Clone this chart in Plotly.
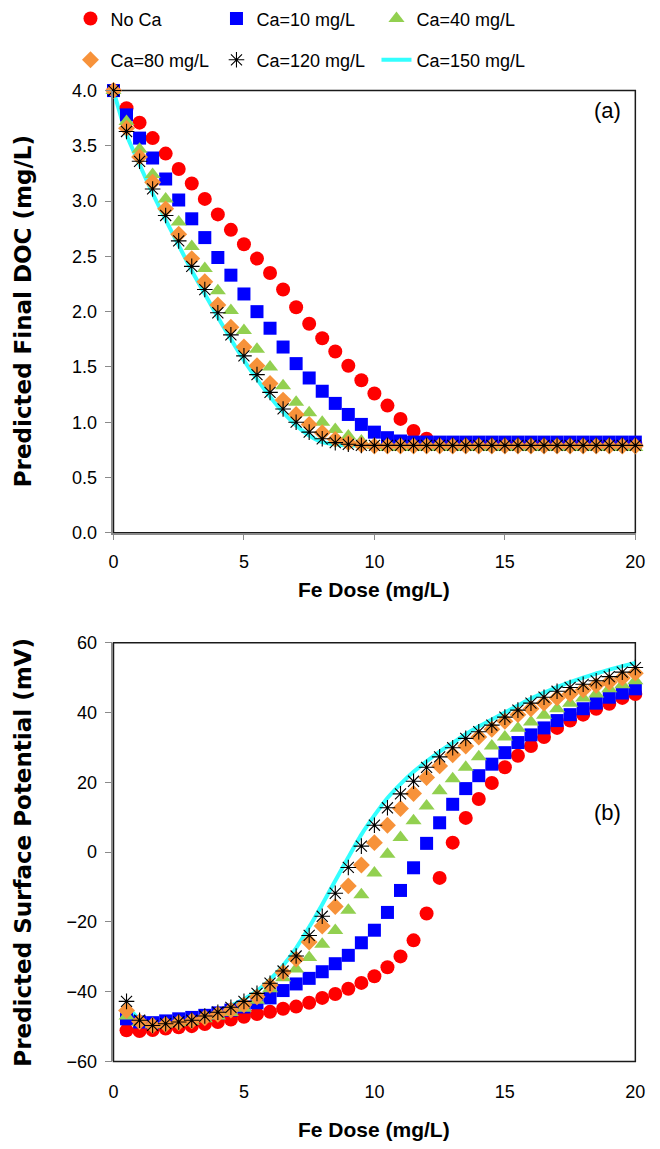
import plotly.graph_objects as go

# ---------------- data ----------------
dose_a = [0, 0.5, 1, 1.5, 2, 2.5, 3, 3.5, 4, 4.5, 5, 5.5, 6, 6.5, 7, 7.5, 8, 8.5, 9, 9.5,
          10, 10.5, 11, 11.5, 12, 12.5, 13, 13.5, 14, 14.5, 15, 15.5, 16, 16.5, 17, 17.5,
          18, 18.5, 19, 19.5, 20]
dose_b = [0.5, 1, 1.5, 2, 2.5, 3, 3.5, 4, 4.5, 5, 5.5, 6, 6.5, 7, 7.5, 8, 8.5, 9, 9.5,
          10, 10.5, 11, 11.5, 12, 12.5, 13, 13.5, 14, 14.5, 15, 15.5, 16, 16.5, 17, 17.5,
          18, 18.5, 19, 19.5, 20]

series_names = ["No Ca", "Ca=10 mg/L", "Ca=40 mg/L", "Ca=80 mg/L", "Ca=120 mg/L", "Ca=150 mg/L"]

# (a) Predicted final DOC (mg/L)
doc_noca = [4.00, 3.84, 3.71, 3.57, 3.43, 3.29, 3.16, 3.02, 2.88, 2.74, 2.61, 2.48, 2.35, 2.20,
            2.04, 1.89, 1.76, 1.64, 1.51, 1.38, 1.26, 1.15, 1.03, 0.92, 0.85, 0.81, 0.80, 0.80,
            0.80, 0.80, 0.80, 0.80, 0.80, 0.80, 0.80, 0.80, 0.80, 0.80, 0.80, 0.80, 0.80]
doc_ca10 = [4.00, 3.78, 3.57, 3.39, 3.20, 3.01, 2.84, 2.67, 2.49, 2.33, 2.16, 2.00, 1.85, 1.68,
            1.53, 1.40, 1.28, 1.17, 1.07, 0.98, 0.91, 0.86, 0.83, 0.82, 0.82, 0.82, 0.82, 0.82,
            0.82, 0.82, 0.82, 0.82, 0.82, 0.82, 0.82, 0.82, 0.82, 0.82, 0.82, 0.82, 0.82]
doc_ca40 = [4.00, 3.72, 3.47, 3.24, 3.02, 2.81, 2.59, 2.39, 2.19, 2.01, 1.83, 1.66, 1.50, 1.33,
            1.18, 1.085, 1.00, 0.935, 0.875, 0.83, 0.79, 0.77, 0.77, 0.77, 0.77, 0.77, 0.77, 0.77,
            0.77, 0.77, 0.77, 0.77, 0.77, 0.77, 0.77, 0.77, 0.77, 0.77, 0.77, 0.77, 0.77]
doc_ca80 = [4.00, 3.66, 3.40, 3.17, 2.93, 2.70, 2.48, 2.27, 2.06, 1.86, 1.68, 1.51, 1.35, 1.20,
            1.07, 0.98, 0.905, 0.845, 0.815, 0.795, 0.785, 0.785, 0.785, 0.785, 0.785, 0.785,
            0.785, 0.785, 0.785, 0.785, 0.785, 0.785, 0.785, 0.785, 0.785, 0.785, 0.785, 0.785,
            0.785, 0.785, 0.785]
doc_ca120 = [4.00, 3.63, 3.36, 3.11, 2.87, 2.64, 2.41, 2.20, 1.99, 1.79, 1.60, 1.43, 1.27, 1.12,
             1.00, 0.91, 0.85, 0.815, 0.80, 0.79, 0.79, 0.79, 0.79, 0.79, 0.79, 0.79, 0.79, 0.79,
             0.79, 0.79, 0.79, 0.79, 0.79, 0.79, 0.79, 0.79, 0.79, 0.79, 0.79, 0.79, 0.79]
doc_ca150 = [4.00, 3.60, 3.33, 3.07, 2.83, 2.60, 2.37, 2.16, 1.95, 1.75, 1.56, 1.39, 1.23, 1.09,
             0.97, 0.88, 0.82, 0.80, 0.79, 0.79, 0.79, 0.79, 0.79, 0.79, 0.79, 0.79, 0.79, 0.79,
             0.79, 0.79, 0.79, 0.79, 0.79, 0.79, 0.79, 0.79, 0.79, 0.79, 0.79, 0.79, 0.79]

# (b) Predicted surface potential (mV)
sp_noca = [-51.1, -51.3, -51.0, -50.6, -50.2, -49.9, -49.3, -48.7, -48.0, -47.2,
           -46.4, -45.8, -44.9, -44.3, -43.2, -41.8, -40.7, -39.2, -37.5, -35.6,
           -33.0, -29.9, -25.3, -17.6, -7.4, 2.7, 9.8, 15.2, 19.8, 24.3,
           27.6, 30.4, 33.0, 35.6, 37.7, 39.4, 41.1, 42.5, 44.2, 45.3]
sp_ca10 = [-47.8, -48.7, -48.9, -48.4, -47.8, -47.4, -46.8, -46.1, -45.3, -44.4,
           -43.2, -41.8, -39.7, -37.8, -36.2, -34.3, -32.0, -29.6, -26.0, -22.4,
           -17.3, -11.0, -4.5, 2.5, 8.4, 13.7, 18.2, 21.9, 25.2, 28.5,
           31.4, 33.6, 35.6, 37.7, 39.4, 41.1, 42.7, 44.4, 45.6, 46.8]
sp_ca40 = [-47.0, -48.8, -49.5, -49.3, -48.9, -48.5, -47.8, -47.0, -46.0, -44.8,
           -42.5, -39.2, -36.0, -33.5, -30.2, -26.4, -22.5, -16.7, -12.2, -6.0,
           -0.6, 4.2, 9.0, 13.2, 17.6, 21.0, 24.3, 27.3, 30.4, 33.0,
           35.5, 37.3, 39.2, 41.1, 42.7, 44.2, 45.3, 46.8, 48.0, 49.1]
sp_ca80 = [-45.4, -48.6, -49.7, -49.4, -48.9, -48.4, -47.5, -46.5, -45.3, -43.8,
           -41.5, -38.2, -34.5, -30.7, -25.8, -21.2, -15.6, -9.7, -3.7, 2.7,
           7.7, 12.5, 16.8, 21.4, 24.7, 27.9, 30.4, 33.0, 35.2, 37.5,
           39.4, 41.1, 42.7, 44.2, 45.3, 46.5, 47.8, 48.7, 49.9, 51.3]
sp_ca120 = [-42.8, -48.2, -49.7, -49.2, -48.7, -48.2, -47.0, -45.9, -44.5, -42.8,
            -40.5, -37.6, -34.1, -29.8, -23.9, -18.4, -11.8, -4.4, 1.7, 7.7,
            12.7, 16.7, 20.3, 24.3, 27.3, 29.9, 32.6, 34.5, 36.4, 38.7,
            40.7, 42.7, 44.4, 46.1, 47.2, 48.1, 49.1, 50.3, 51.6, 52.9]
sp_ca150 = [-44.0, -48.0, -49.5, -49.2, -48.7, -48.0, -46.8, -45.6, -44.0, -42.2,
            -39.8, -36.5, -32.5, -27.5, -21.5, -15.0, -8.2, -1.5, 5.0, 10.5,
            15.5, 19.5, 23.0, 26.0, 28.8, 31.3, 33.8, 36.0, 38.0, 40.0,
            42.0, 44.0, 45.7, 47.3, 48.7, 50.0, 51.2, 52.3, 53.3, 54.2]

x_ticks = [0, 5, 10, 15, 20]
doc_ticks = [0.0, 0.5, 1.0, 1.5, 2.0, 2.5, 3.0, 3.5, 4.0]
sp_ticks = [-60, -40, -20, 0, 20, 40, 60]

# ---------------- styling ----------------
FONT = "Liberation Sans, Arial, sans-serif"
AX_GRAY = "#8a8a8a"
W, H = 660, 1149
colors = ["#FF0000", "#0000FF", "#92D050", "#F7923A", "#000000", "#33FFFF"]
symbols = ["circle", "square", "triangle-up", "diamond", "asterisk-open", None]
sizes = [14, 13, 14, 13, 13, None]
legend_ids = ["legend", "legend", "legend", "legend2", "legend2", "legend2"]
legend_widths = [101, 115, 110, 101, 115, 110]

doc_series = [doc_noca, doc_ca10, doc_ca40, doc_ca80, doc_ca120, doc_ca150]
sp_series = [sp_noca, sp_ca10, sp_ca40, sp_ca80, sp_ca120, sp_ca150]

fig = go.Figure()

# cyan line underneath, then the marker series in order
order = [5, 0, 1, 2, 3, 4]
for i in order:
    for panel, (xs, ys) in enumerate([(dose_a, doc_series[i]), (dose_b, sp_series[i])]):
        xa, ya = ("x", "y") if panel == 0 else ("x2", "y2")
        common = dict(x=xs, y=ys, xaxis=xa, yaxis=ya, name=series_names[i],
                      showlegend=(panel == 0), legend=legend_ids[i],
                      legendrank=i + 1, legendwidth=legend_widths[i],
                      cliponaxis=False, hoverinfo="skip")
        if symbols[i] is None:
            fig.add_trace(go.Scatter(mode="lines",
                                     line=dict(color=colors[i], width=4,
                                               shape="spline", smoothing=0.5),
                                     **common))
        elif symbols[i] == "asterisk-open":
            fig.add_trace(go.Scatter(mode="markers",
                                     marker=dict(symbol=symbols[i], size=sizes[i],
                                                 color=colors[i],
                                                 line=dict(color="#000000", width=1.1)),
                                     **common))
        else:
            fig.add_trace(go.Scatter(mode="markers",
                                     marker=dict(symbol=symbols[i], size=sizes[i],
                                                 color=colors[i], line=dict(width=0)),
                                     **common))

# pixel geometry -> paper domains
left_px, right_px = 111, 645
xdom = [left_px / W, right_px / W]
ydom_a = [1 - 532 / H, 1 - 82 / H]
ydom_b = [1 - 1070 / H, 1 - 644 / H]

tickfont = dict(family=FONT, size=18, color="#000000")

fig.update_layout(
    width=W, height=H,
    margin=dict(l=0, r=0, t=0, b=0),
    paper_bgcolor="white", plot_bgcolor="white",
    font=dict(family=FONT, color="#000000"),
    xaxis=dict(domain=xdom, anchor="y", range=[0, 20], tickvals=x_ticks,
               showgrid=False, zeroline=False, showline=True, linecolor=AX_GRAY,
               linewidth=1.5, ticks="outside", ticklen=6, tickcolor=AX_GRAY,
               tickfont=tickfont, ticklabelstandoff=6, ticklabeloverflow="allow"),
    yaxis=dict(domain=ydom_a, anchor="x", range=[0, 4], tickvals=doc_ticks,
               tickformat=".1f", showgrid=False, zeroline=False, showline=True,
               linecolor=AX_GRAY, linewidth=1.5, ticks="outside", ticklen=7,
               tickcolor=AX_GRAY, tickfont=tickfont, ticklabelstandoff=4),
    xaxis2=dict(domain=xdom, anchor="y2", range=[0, 20], tickvals=x_ticks,
                showgrid=False, zeroline=False, showline=False, ticks="",
                tickfont=tickfont, ticklabelstandoff=18, ticklabeloverflow="allow"),
    xaxis3=dict(overlaying="x2", anchor="free",
                position=ydom_b[0] + (ydom_b[1] - ydom_b[0]) * 0.5,
                range=[0, 20], tickvals=x_ticks, showticklabels=False,
                showgrid=False, zeroline=False, showline=True, linecolor=AX_GRAY,
                linewidth=1.5, ticks="outside", ticklen=6, tickcolor=AX_GRAY),
    yaxis2=dict(domain=ydom_b, anchor="x2", range=[-60, 60], tickvals=sp_ticks,
                showgrid=False, zeroline=False, showline=True, linecolor=AX_GRAY,
                linewidth=1.5, ticks="outside", ticklen=7, tickcolor=AX_GRAY,
                tickfont=tickfont, ticklabelstandoff=4),
    legend=dict(orientation="h", x=67 / W, xanchor="left", y=1 - 9 / H, yanchor="middle",
                font=dict(family=FONT, size=18, color="#000000"), itemwidth=30,
                bgcolor="rgba(0,0,0,0)", traceorder="normal"),
    legend2=dict(orientation="h", x=67 / W, xanchor="left", y=1 - 51 / H, yanchor="middle",
                 font=dict(family=FONT, size=18, color="#000000"), itemwidth=30,
                 bgcolor="rgba(0,0,0,0)", traceorder="normal"),
)

# plot-area frames (top/right/bottom borders)
for xr, yr in [("x domain", "y domain"), ("x2 domain", "y2 domain")]:
    fig.add_shape(type="rect", xref=xr, yref=yr, x0=0, x1=1, y0=0, y1=1,
                  line=dict(color="#1a1a1a", width=1.5), layer="below")

title_font = dict(family=FONT, size=21, color="#000000", weight="bold")
ytitle_font = dict(family="DejaVu Sans, " + FONT, size=23, color="#000000", weight="bold")
xmid = (xdom[0] + xdom[1]) / 2
fig.add_annotation(text="Fe Dose (mg/L)", xref="paper", yref="paper", x=xmid, y=1 - 590 / H,
                   showarrow=False, font=title_font, xanchor="center", yanchor="middle")
fig.add_annotation(text="Fe Dose (mg/L)", xref="paper", yref="paper", x=xmid, y=1 - 1139 / H,
                   showarrow=False, font=title_font, xanchor="center", yanchor="middle")
fig.add_annotation(text="Predicted Final DOC (mg/L)", xref="paper", yref="paper",
                   x=18 / W, y=(ydom_a[0] + ydom_a[1]) / 2, textangle=-90, showarrow=False,
                   font=ytitle_font, xanchor="center", yanchor="middle")
fig.add_annotation(text="Predicted Surface Potential (mV)", xref="paper", yref="paper",
                   x=18 / W, y=(ydom_b[0] + ydom_b[1]) / 2, textangle=-90, showarrow=False,
                   font=ytitle_font, xanchor="center", yanchor="middle")
fig.add_annotation(text="(a)", xref="paper", yref="paper", x=617 / W, y=1 - 102 / H,
                   showarrow=False, font=dict(family=FONT, size=22, color="#000000"),
                   xanchor="center", yanchor="middle")
fig.add_annotation(text="(b)", xref="paper", yref="paper", x=617 / W, y=1 - 817 / H,
                   showarrow=False, font=dict(family=FONT, size=22, color="#000000"),
                   xanchor="center", yanchor="middle")

fig.write_html("out.html")
